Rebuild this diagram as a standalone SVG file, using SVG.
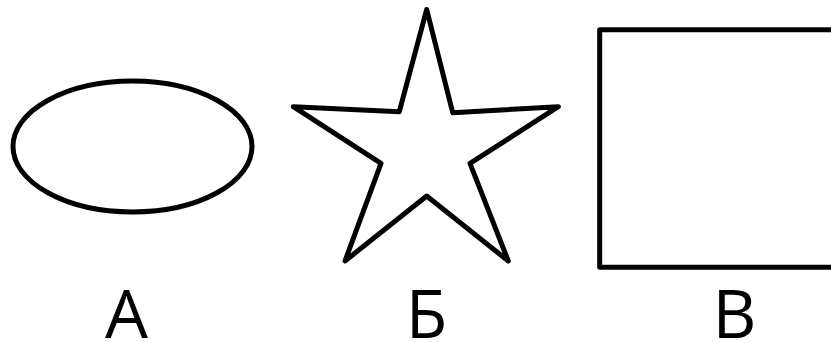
<svg xmlns="http://www.w3.org/2000/svg" width="831" height="342" viewBox="0 0 831 342">
<style>
.shape{fill:#fff;stroke:#000;stroke-width:5;stroke-linejoin:round}
.lbl{font-family:"Open Sans","Liberation Sans",sans-serif;font-size:68px;fill:#000;text-anchor:middle}
</style>
<rect width="831" height="342" fill="#fff"/>
<g id="node-a">
<ellipse class="shape" cx="132.5" cy="146.5" rx="119.5" ry="65.5"/>
<text class="lbl" x="126.5" y="338">А</text>
</g>
<g id="node-b">
<polygon class="shape" points="426.7,9.5 399.3,111.7 293.3,106.7 381,163.3 345,261 426.7,196 508.3,261 470,163.3 558.3,106.7 452.7,112.7"/>
<text class="lbl" x="426.5" y="338">Б</text>
</g>
<g id="node-c">
<rect class="shape" x="599.7" y="29.7" width="270" height="237.5" stroke-width="5.5"/>
<text class="lbl" x="734.5" y="338">В</text>
</g>
<g id="connectors"/>
</svg>
